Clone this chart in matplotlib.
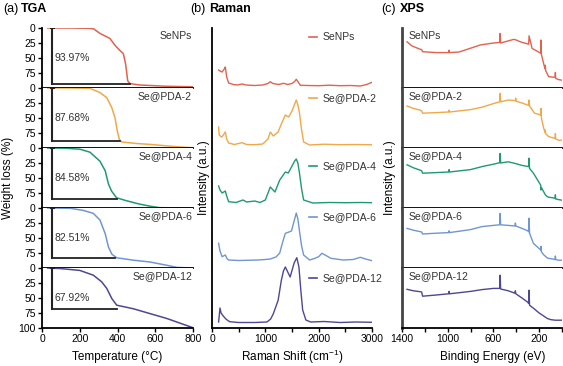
# TGA / Raman / XPS comparison of SeNPs and Se@PDA samples

import matplotlib
matplotlib.use('Agg')
import matplotlib.pyplot as plt

plt.rcParams['font.family'] = ['Liberation Sans', 'DejaVu Sans']
plt.rcParams['mathtext.fontset'] = 'custom'
plt.rcParams['mathtext.rm'] = 'Liberation Sans'
plt.rcParams['mathtext.it'] = 'Liberation Sans:italic'

samples = ['SeNPs', 'Se@PDA-2', 'Se@PDA-4', 'Se@PDA-6', 'Se@PDA-12']
colors = ['#e2624e', '#f0a848', '#1f9a6f', '#7096d2', '#4c4892']

# ---- TGA (weight loss %, temperature in C)
tga_temp = [
  [30, 150, 250, 274, 307, 360, 387, 413, 431, 443, 454, 466, 519, 650, 800],
  [30, 150, 254, 307, 343, 370, 387, 399, 410, 423, 500, 572, 680, 767, 800],
  [30, 120, 201, 254, 307, 335, 352, 369, 395, 449, 510, 572, 625, 800],
  [30, 150, 219, 272, 307, 335, 352, 370, 396, 485, 572, 662, 715, 800],
  [30, 100, 200, 272, 316, 343, 370, 396, 485, 572, 660, 750, 795],
]
tga_loss = [
  [0, 0, 0.5, 1.5, 9, 17.5, 29, 37.6, 43, 60, 88, 92.7, 95, 97, 98],
  [0, 0, 0.5, 7.6, 16, 33, 50, 72, 86, 90, 92.5, 94, 97, 99, 99.5],
  [0, 0.3, 2, 7, 22, 38, 60, 72, 83, 88, 93, 97, 99.5, 100],
  [0, 0.5, 4, 9, 20, 43, 65, 77, 83, 87, 90, 95.5, 99, 100],
  [0, 1, 4, 12, 23, 34, 51, 62, 68, 76, 84, 94, 99],
]
loss_total = [93.97, 87.68, 84.58, 82.51, 67.92]
loss_end_temp = [466, 413, 396, 387, 399]
bar_temp = 55

# ---- Raman (shift in cm-1, intensity above each baseline)
raman_shift = [
  [124, 150, 190, 230, 250, 275, 312, 400, 480, 562, 640, 800, 950, 1050, 1093, 1140, 1250, 1343,
   1420, 1500, 1550, 1580, 1610, 1656, 1800, 2000, 2200, 2400, 2600, 2780, 2900, 3000],
  [124, 135, 180, 200, 250, 275, 312, 420, 562, 650, 800, 950, 1050, 1093, 1150, 1240, 1300, 1375,
   1435, 1500, 1550, 1580, 1610, 1640, 1680, 1718, 1830, 2100, 2400, 2700, 3000],
  [124, 150, 190, 250, 275, 312, 450, 580, 650, 800, 900, 1000, 1093, 1180, 1270, 1375, 1430, 1500,
   1550, 1580, 1610, 1640, 1680, 1718, 1890, 2200, 2500, 2800, 3000],
  [124, 150, 190, 250, 280, 312, 500, 860, 1000, 1093, 1200, 1270, 1320, 1375, 1430, 1490, 1540,
   1580, 1610, 1640, 1680, 1718, 1830, 1920, 2000, 2060, 2120, 2230, 2460, 2650, 2780, 2880, 3000],
  [124, 150, 170, 200, 260, 330, 500, 800, 1030, 1100, 1150, 1240, 1300, 1340, 1375, 1420, 1465,
   1540, 1590, 1630, 1665, 1700, 1760, 1850, 2100, 2400, 2700, 3000],
]
raman_int = [
  [16, 15, 14, 17, 19, 9, 3, 1.5, 1, 2, 1, 0.5, 1, 2.5, 4.3, 2.5, 1.5, 2.7,
   1.5, 2.5, 4.5, 6.7, 4.5, 0.7, 0.5, 0.3, 0.8, 0.3, 0.5, 0, 1.5, 3.7],
  [18, 10, 8, 9, 13, 6, 2, 0.5, 2.3, 0.5, 0.3, 1, 6, 13, 9, 13, 21, 30,
   28, 34, 41, 45, 40, 32, 15, 3, 0, 0.8, 0.3, 0.5, 0.2],
  [17, 13, 10, 12, 7, 1.3, 0.5, 3, 1, 2, 0.5, 3, 16, 11, 23, 31, 30, 37,
   42, 44, 40, 30, 14, 3, 0, 0.5, 0.3, 0.5, 0.3],
  [17.7, 10, 4.3, 6, 2.5, 1, 0.5, 1, 1.5, 2, 4, 8, 18, 27.7, 28.7, 30, 40,
   48, 42, 30, 15, 6, 1, 2.5, 4.3, 7.7, 6, 2.7, 1, 1.5, 3.7, 2, 0.3],
  [1, 15, 10, 7.7, 4, 1.3, 0.5, 0.5, 1, 4, 9.3, 22.7, 42.7, 52, 56, 51, 46,
   60, 65.3, 56, 33, 13, 3, 1, 1.5, 0.5, 1, 0.7],
]
raman_offset = [242, 183, 125, 67, 5]
raman_legend_y = [291, 230, 162, 111, 50]

# ---- XPS survey (binding energy in eV, relative intensity per panel)
xps_be = [
  [1356, 1312, 1240, 1228, 1220, 1100, 992, 988, 984, 900, 715, 600, 545, 541, 537, 480, 423, 400,
   365, 310, 292, 288, 262, 205, 186, 184, 180, 175, 160, 148, 146, 143, 117, 80, 60, 58, 55, 30, 0],
  [1356, 1300, 1240, 1228, 1220, 1100, 992, 988, 984, 800, 700, 600, 545, 541, 537, 470, 408, 405,
   402, 350, 292, 288, 284, 240, 186, 184, 180, 170, 160, 148, 146, 143, 117, 80, 60, 58, 55, 30, 0],
  [1356, 1300, 1240, 1228, 1220, 1100, 992, 988, 984, 800, 700, 600, 545, 541, 537, 470, 405, 350,
   292, 288, 284, 250, 186, 184, 180, 160, 146, 130, 117, 80, 60, 58, 55, 30, 0],
  [1356, 1300, 1240, 1228, 1220, 1100, 992, 988, 984, 800, 700, 600, 545, 541, 537, 470, 412, 408,
   404, 350, 300, 292, 288, 284, 250, 186, 184, 180, 160, 130, 117, 80, 60, 58, 55, 30, 0],
  [1356, 1300, 1240, 1228, 1220, 1100, 992, 988, 984, 800, 700, 600, 545, 541, 537, 470, 412, 408,
   404, 350, 300, 292, 288, 284, 250, 200, 160, 130, 100, 60, 30, 0],
]
xps_int = [
  [0.77, 0.70, 0.645, 0.64, 0.605, 0.59, 0.59, 0.63, 0.59, 0.60, 0.717, 0.75, 0.76, 0.91, 0.75, 0.78,
   0.81, 0.80, 0.77, 0.74, 0.73, 0.87, 0.66, 0.60, 0.58, 0.80, 0.55, 0.52, 0.40, 0.32, 0.38, 0.29,
   0.19, 0.18, 0.18, 0.26, 0.16, 0.14, 0.13],
  [0.70, 0.66, 0.63, 0.62, 0.58, 0.59, 0.60, 0.63, 0.60, 0.64, 0.68, 0.74, 0.77, 0.91, 0.77, 0.80,
   0.79, 0.83, 0.78, 0.75, 0.71, 0.80, 0.70, 0.58, 0.55, 0.66, 0.50, 0.41, 0.33, 0.26, 0.30, 0.24,
   0.19, 0.17, 0.16, 0.24, 0.15, 0.13, 0.13],
  [0.72, 0.67, 0.63, 0.62, 0.58, 0.59, 0.60, 0.64, 0.60, 0.64, 0.69, 0.73, 0.755, 0.91, 0.75, 0.77,
   0.74, 0.71, 0.69, 0.83, 0.66, 0.58, 0.38, 0.30, 0.34, 0.27, 0.22, 0.19, 0.18, 0.17, 0.16, 0.22,
   0.15, 0.14, 0.13],
  [0.66, 0.63, 0.605, 0.60, 0.567, 0.58, 0.59, 0.62, 0.59, 0.64, 0.69, 0.71, 0.72, 0.91, 0.72, 0.71,
   0.70, 0.75, 0.70, 0.66, 0.62, 0.605, 0.83, 0.58, 0.41, 0.30, 0.36, 0.27, 0.22, 0.17, 0.16, 0.15,
   0.14, 0.20, 0.14, 0.13, 0.13],
  [0.645, 0.62, 0.605, 0.60, 0.53, 0.55, 0.57, 0.61, 0.57, 0.61, 0.64, 0.66, 0.66, 0.88, 0.65, 0.62,
   0.58, 0.62, 0.57, 0.50, 0.43, 0.41, 0.63, 0.38, 0.33, 0.25, 0.20, 0.16, 0.14, 0.13, 0.13, 0.13],
]

W, H = 563, 366
fig = plt.figure(figsize=(W / 100, H / 100), dpi=100)


def px_axes(left, top, right, bottom):
  # axes from pixel box (origin top-left)
  return fig.add_axes([left / W, 1 - bottom / H, (right - left) / W, (bottom - top) / H])


tick_fs = 7.5
label_fs = 8.5
panel_h = 60
top_y = 28

# ---- (a) TGA: five stacked panels
for i, name in enumerate(samples):
  ax = px_axes(42, top_y + i * panel_h, 193, top_y + (i + 1) * panel_h)
  ax.plot(tga_temp[i], tga_loss[i], color=colors[i], lw=1.1)
  ax.plot([bar_temp, bar_temp], [0, loss_total[i]], color='#222222', lw=1.5)
  ax.plot([bar_temp - 6, bar_temp + 6], [0, 0], color='#222222', lw=1.5)
  ax.plot([bar_temp, loss_end_temp[i]], [loss_total[i], loss_total[i]], color='#222222', lw=1.3)
  ax.text(bar_temp + 10, 50, f'{loss_total[i]:.2f}%', fontsize=7.5, va='center', color='#333333')
  ax.text(795, 13, name, fontsize=7.5, ha='right', va='center', color='#333333')
  ax.set_xlim(0, 800)
  ax.set_ylim(100, 0)
  ax.spines[['top', 'right']].set_visible(False)
  ax.spines[['left', 'bottom']].set_linewidth(1.3)
  ax.tick_params(length=3, width=1, labelsize=tick_fs, pad=1.5)
  if i < len(samples) - 1:
    ax.set_yticks([0, 25, 50, 75])
    ax.set_xticks([])
  else:
    ax.set_yticks([0, 25, 50, 75, 100])
    ax.set_xticks([0, 200, 400, 600, 800])

# ---- (b) Raman: offset spectra in a single axes
axr = px_axes(212, top_y, 372, top_y + 5 * panel_h)
for i, name in enumerate(samples):
  shifted = [v + raman_offset[i] for v in raman_int[i]]
  axr.plot(raman_shift[i], shifted, color=colors[i], lw=1.0)
  axr.plot([1810, 1970], [raman_legend_y[i], raman_legend_y[i]], color=colors[i], lw=1.2)
  axr.text(2080, raman_legend_y[i], name, fontsize=7.5, va='center', color='#333333')
axr.set_xlim(0, 3000)
axr.set_ylim(0, 300)
axr.spines[['top', 'right']].set_visible(False)
axr.spines[['left', 'bottom']].set_linewidth(1.3)
axr.set_yticks([])
axr.set_xticks(range(0, 3001, 500))
axr.set_xticklabels(['0', '', '1000', '', '2000', '', '3000'])
axr.tick_params(length=3, width=1, labelsize=tick_fs, pad=1.5)

# ---- (c) XPS: five stacked panels
for i, name in enumerate(samples):
  ax = px_axes(402, top_y + i * panel_h, 562, top_y + (i + 1) * panel_h)
  ax.plot(xps_be[i], xps_int[i], color=colors[i], lw=1.0)
  ax.text(0.04, 0.86, name, transform=ax.transAxes, fontsize=7.5, va='center', color='#333333')
  ax.set_xlim(1400, 0)
  ax.set_ylim(0, 1)
  ax.spines[['top', 'right']].set_visible(False)
  ax.spines['left'].set_linewidth(2.0)
  ax.spines['left'].set_color('#444444')
  ax.spines['bottom'].set_linewidth(1.3)
  ax.set_yticks([])
  if i < len(samples) - 1:
    ax.set_xticks([])
  else:
    ax.set_xticks(range(1400, -1, -200))
    ax.set_xticklabels(['1400', '', '1000', '', '600', '', '200', ''])
    ax.tick_params(length=3, width=1, labelsize=tick_fs, pad=1.5)

# ---- titles and axis labels
def px_text(x, y, s, **kw):
  fig.text(x / W, 1 - y / H, s, **kw)


px_text(3, 9, '(a)', fontsize=9, va='center')
px_text(21, 9, 'TGA', fontsize=9, va='center', fontweight='bold')
px_text(190, 9, '(b)', fontsize=9, va='center')
px_text(209, 9, 'Raman', fontsize=9, va='center', fontweight='bold')
px_text(381, 9, '(c)', fontsize=9, va='center')
px_text(400, 9, 'XPS', fontsize=9, va='center', fontweight='bold')

px_text(8, 178, 'Weight loss (%)', fontsize=label_fs, rotation=90, ha='center', va='center')
px_text(204, 178, 'Intensity (a.u.)', fontsize=label_fs, rotation=90, ha='center', va='center')
px_text(390, 178, 'Intensity (a.u.)', fontsize=label_fs, rotation=90, ha='center', va='center')

px_text(117, 357, 'Temperature (\u00b0C)', fontsize=label_fs, ha='center', va='center')
px_text(292, 357, 'Raman Shift (cm$^{-1}$)', fontsize=label_fs, ha='center', va='center')
px_text(493, 357, 'Binding Energy (eV)', fontsize=label_fs, ha='center', va='center')

fig.savefig('out.png', dpi=100)
